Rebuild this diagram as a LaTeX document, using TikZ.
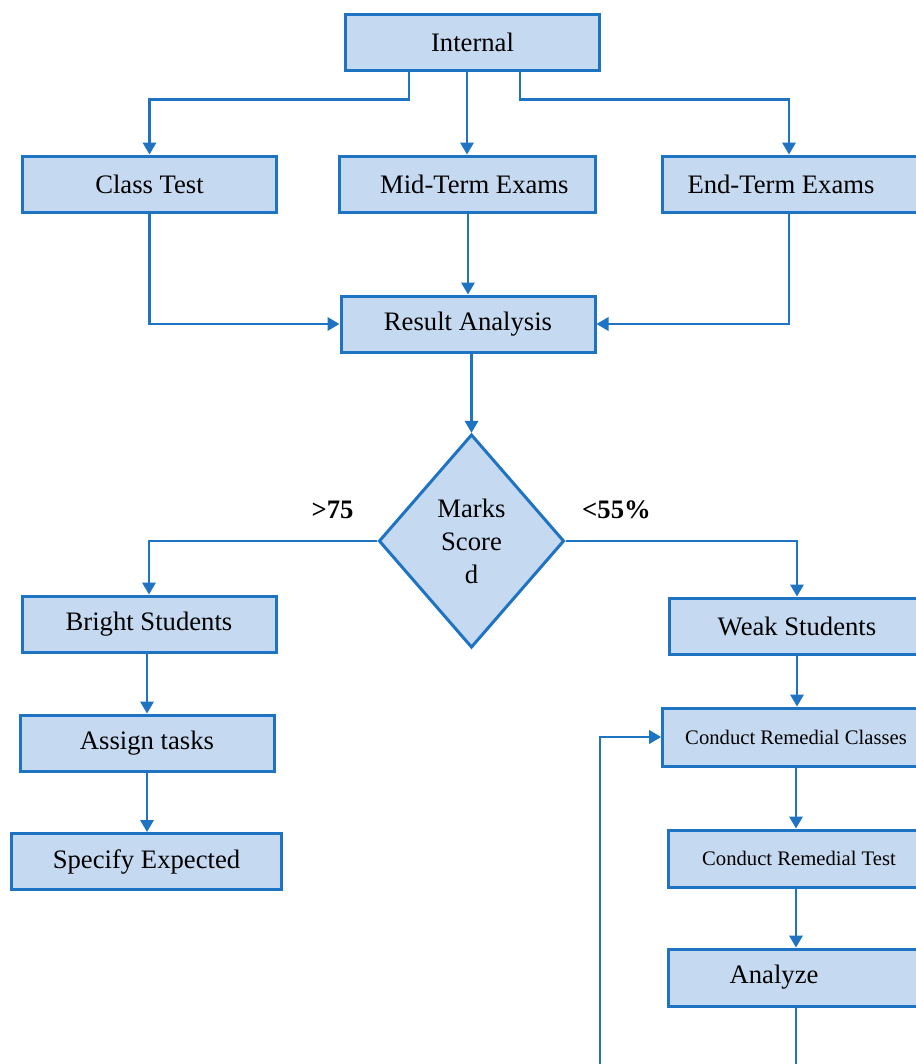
\documentclass[tikz,border=0pt]{standalone}
\usepackage{fontspec}
\setmainfont{Liberation Serif}
\usetikzlibrary{shapes.geometric,arrows.meta}
\definecolor{flowline}{RGB}{30,115,195}
\definecolor{flowfill}{RGB}{197,217,240}
\begin{document}
\begin{tikzpicture}[x=0.75pt,y=-0.75pt,
  stepbox/.style={rectangle,draw=flowline,line width=2.25pt,fill=flowfill,
    inner sep=0pt,minimum height=42pt,font=\fontsize{20}{24}\selectfont},
  smallbox/.style={stepbox,font=\fontsize{15.5}{19}\selectfont},
  decision/.style={diamond,draw=flowline,line width=2.25pt,fill=flowfill,
    inner sep=0pt,minimum width=139pt,minimum height=160pt,align=center,
    font=\fontsize{20}{24.75}\selectfont},
  branchlabel/.style={font=\fontsize{20}{24}\selectfont\bfseries},
  link/.style={draw=flowline,line width=1.8pt},
  arrow/.style={link,-{Triangle[length=9pt,width=10pt]}}]
\useasboundingbox (0,0) rectangle (916,1064);
\clip (0,0) rectangle (916,1064);

% top row
\node[stepbox,minimum width=190pt] (int) at (472.5,42.5) {Internal};
\node[stepbox,minimum width=190pt] (ct) at (149.5,184) {Class Test};
\node[stepbox,minimum width=192pt] (mt) at (467,184) {\hspace*{11pt}Mid-Term Exams};
\node[stepbox,minimum width=200pt] (et) at (796,184) {End-Term Exams\hspace*{22.5pt}};
\node[stepbox,minimum width=190.5pt] (ra) at (468,324) {Result Analysis};

% decision
\node[decision] (dec) at (471.5,541) {Marks\\Score\\d};
\node[branchlabel] (gt) at (332.5,510) {>75};
\node[branchlabel] (lt) at (616.5,510) {<55\%};

% left branch
\node[stepbox,minimum width=190.5pt] (br) at (149,624) {Bright Students};
\node[stepbox,minimum width=190.5pt] (as) at (147,743) {Assign tasks};
\node[stepbox,minimum width=202pt] (sp) at (146.5,861.5) {Specify Expected};

% right branch
\node[stepbox,minimum width=192pt] (wk) at (797,626) {Weak Students};
\node[smallbox,minimum width=200pt,minimum height=43.5pt] (cc) at (796,737) {Conduct Remedial Classes};
\node[smallbox,minimum width=196.5pt,minimum height=42.75pt] (crt) at (799,858.5) {Conduct Remedial Test};
\node[stepbox,minimum width=192pt,minimum height=42.75pt] (an) at (796,977.5) {Analyze\hspace*{33pt}};

% junction points
\coordinate (jl) at (409,99.5);
\coordinate (jr) at (520,99.5);
\coordinate (jre) at (789,99.5);
\coordinate (loop) at (600,1070);

% connectors
\draw[arrow] (jl |- int.south) -- (jl) -| (ct.north);
\draw[arrow] (int.south -| mt.north) -- (mt.north);
\draw[arrow] (jr |- int.south) -- (jr) -- (jre) -- (jre |- et.north);
\draw[arrow] (ct.south) |- (ra.west);
\draw[arrow] (mt.south -| ra.north) -- (ra.north);
\draw[arrow] (jre |- et.south) |- (ra.east);
\draw[arrow] (dec.north |- ra.south) -- (dec.north);
\draw[arrow] (dec.west) -| (br.north);
\draw[arrow] (dec.east) -| (wk.north);
\draw[arrow] (as.north |- br.south) -- (as.north);
\draw[arrow] (as.south) -- (as.south |- sp.north);
\draw[arrow] (wk.south) -- (wk.south |- cc.north);
\draw[arrow] (cc.south) -- (cc.south |- crt.north);
\draw[arrow] (cc.south |- crt.south) -- (cc.south |- an.north);
\draw[arrow] (an.south) |- (loop) |- (cc.west);
\end{tikzpicture}
\end{document}
